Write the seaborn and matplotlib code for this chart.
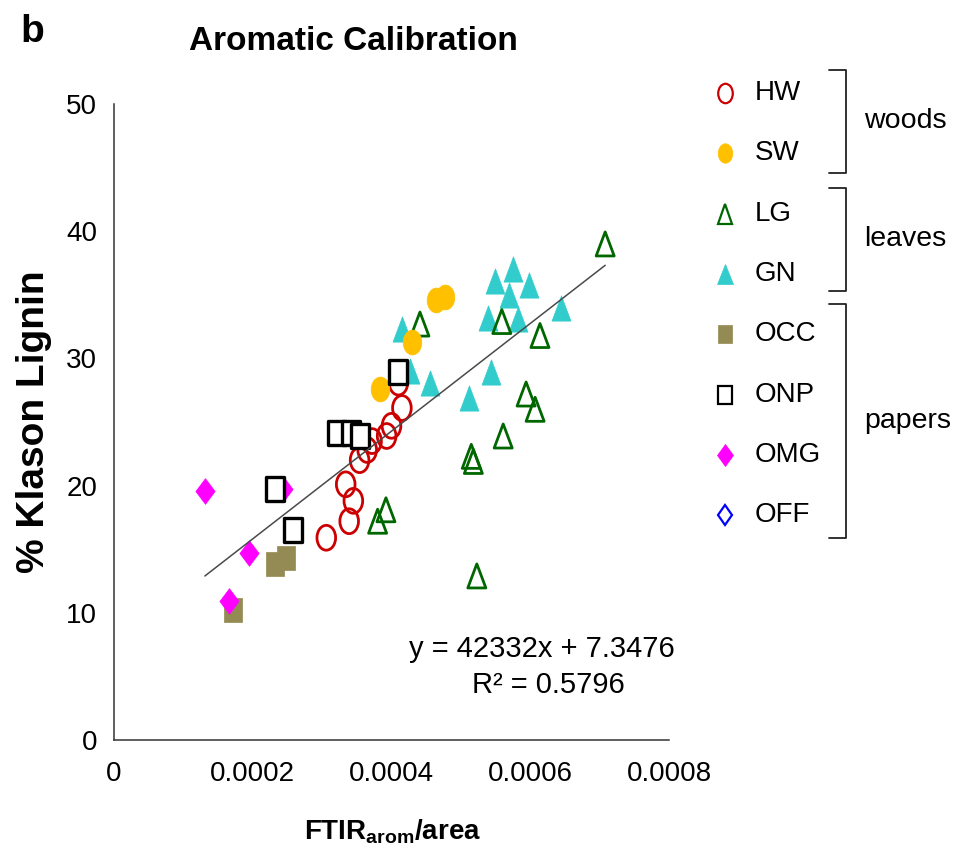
import numpy as np
import pandas as pd
import matplotlib
matplotlib.use("Agg")
import matplotlib.pyplot as plt
import seaborn as sns
from matplotlib.markers import MarkerStyle
from matplotlib.transforms import Affine2D
from matplotlib.lines import Line2D

# ---------------- data ----------------
hw_x = [3.06e-4, 3.39e-4, 3.45e-4, 3.34e-4, 3.54e-4, 3.65e-4, 3.72e-4, 3.93e-4, 4.00e-4, 4.15e-4, 4.10e-4]
hw_y = [15.9, 17.2, 18.8, 20.1, 22.0, 22.8, 23.5, 23.9, 24.7, 26.1, 28.1]

sw_x = [3.84e-4, 4.29e-4, 4.64e-4, 4.77e-4]
sw_y = [27.6, 31.3, 34.6, 34.8]

lg_x = [7.08e-4, 4.41e-4, 5.59e-4, 6.14e-4, 5.94e-4, 6.07e-4, 5.61e-4, 5.15e-4, 5.18e-4, 5.23e-4, 3.92e-4, 3.80e-4]
lg_y = [39.0, 32.7, 32.9, 31.8, 27.2, 26.0, 23.9, 22.3, 21.9, 12.9, 18.1, 17.2]

gn_x = [4.15e-4, 4.27e-4, 4.55e-4, 5.11e-4, 5.43e-4, 5.39e-4, 5.83e-4, 5.49e-4, 5.75e-4, 5.98e-4, 5.70e-4, 6.45e-4]
gn_y = [32.3, 29.0, 28.1, 26.9, 28.9, 33.2, 33.1, 36.1, 37.0, 35.8, 35.0, 34.0]

occ_x = [2.32e-4, 2.48e-4, 1.71e-4]
occ_y = [13.8, 14.3, 10.2]

onp_x = [3.21e-4, 3.42e-4, 3.54e-4, 4.10e-4, 2.32e-4, 2.58e-4]
onp_y = [24.1, 24.1, 23.9, 28.9, 19.7, 16.5]

omg_x = [1.31e-4, 1.95e-4, 1.66e-4, 2.44e-4]
omg_y = [19.6, 14.7, 10.9, 19.7]

off_x = []
off_y = []

fit_slope = 42332
fit_intercept = 7.3476
r_squared = 0.5796

categories = ["HW", "SW", "LG", "GN", "OCC", "ONP", "OMG", "OFF"]
xtick_values = [0, 0.0002, 0.0004, 0.0006, 0.0008]
xtick_labels = ["0", "0.0002", "0.0004", "0.0006", "0.0008"]
ytick_values = [0, 10, 20, 30, 40, 50]

# ---------------- style ----------------
sns.set_theme(style="white")
FONT = ["Liberation Sans", "DejaVu Sans"]
plt.rcParams["font.family"] = FONT
plt.rcParams["text.color"] = "black"
plt.rcParams["mathtext.fontset"] = "custom"
plt.rcParams["mathtext.bf"] = "Liberation Sans:bold"
plt.rcParams["mathtext.rm"] = "Liberation Sans"

SQ = Affine2D().scale(0.75, 1.0)
def mk(m):
    return MarkerStyle(m, transform=SQ)

style = {
    "HW":  dict(marker="o", fc="none", ec="#CC0000", s=320, lw=2.0),
    "SW":  dict(marker="o", fc="#FFC000", ec="#FFC000", s=320, lw=0.5),
    "LG":  dict(marker="^", fc="none", ec="#006600", s=300, lw=2.0),
    "GN":  dict(marker="^", fc="#33CCCC", ec="#33CCCC", s=330, lw=0.5),
    "OCC": dict(marker="s", fc="#948A54", ec="#948A54", s=290, lw=0.5),
    "ONP": dict(marker="s", fc="white", ec="black", s=280, lw=2.4),
    "OMG": dict(marker="D", fc="#FF00FF", ec="#FF00FF", s=170, lw=0.5),
    "OFF": dict(marker="D", fc="none", ec="#0000FF", s=170, lw=1.5),
}
legend_ms = {"HW": 14, "SW": 14, "LG": 14, "GN": 15, "OCC": 13, "ONP": 12.5, "OMG": 11, "OFF": 10}

data = {"HW": (hw_x, hw_y), "SW": (sw_x, sw_y), "LG": (lg_x, lg_y), "GN": (gn_x, gn_y),
        "OCC": (occ_x, occ_y), "ONP": (onp_x, onp_y), "OMG": (omg_x, omg_y), "OFF": (off_x, off_y)}

fig = plt.figure(figsize=(9.57, 8.59), dpi=100)
ax = fig.add_axes([114/957, 1-740/859, (669-114)/957, (740-104)/859])

draw_order = ["GN", "LG", "HW", "SW", "OCC", "OMG", "ONP", "OFF"]
for z, cat in enumerate(draw_order):
    xs, ys = data[cat]
    if len(xs) == 0:
        continue
    df = pd.DataFrame({"x": xs, "y": ys})
    st = style[cat]
    sns.scatterplot(data=df, x="x", y="y", ax=ax, marker=mk(st["marker"]), s=st["s"],
                    facecolor=st["fc"], edgecolor=st["ec"], linewidth=st["lw"], zorder=3 + z)

# regression line across data range
all_x = hw_x + sw_x + lg_x + gn_x + occ_x + onp_x + omg_x
lx = np.array([min(all_x), max(all_x)])
sns.lineplot(x=lx, y=fit_slope * lx + fit_intercept, ax=ax, color="#4a4a4a", lw=1.1, zorder=20)

ax.set_xlim(0, 0.0008)
ax.set_ylim(0, 50)
ax.set_xticks(xtick_values)
ax.set_xticklabels(xtick_labels)
ax.set_yticks(ytick_values)
ax.set_xlabel("")
ax.set_ylabel("")
for sp in ["top", "right"]:
    ax.spines[sp].set_visible(False)
for sp in ["left", "bottom"]:
    ax.spines[sp].set_color("#333333")
    ax.spines[sp].set_linewidth(1.1)
ax.tick_params(axis="both", which="major", direction="out", length=7, width=1.1,
               color="#777777", labelsize=20, labelcolor="black")
ax.tick_params(axis="x", pad=8)
ax.tick_params(axis="y", pad=5)

# texts
fig.text(32/957, 1-32/859, "b", fontsize=28, fontweight="bold", ha="center", va="center")
fig.text(353/957, 1-42/859, "Aromatic Calibration", fontsize=24, fontweight="bold", ha="center", va="center")
fig.text(34/957, 1-422/859, "% Klason Lignin", fontsize=28, fontweight="bold", rotation=90,
         ha="center", va="center")
fig.text(393/957, 1-832/859, r"$\mathbf{FTIR_{arom}/area}$", fontsize=20, ha="center", va="center")
fig.text(542/957, 1-649/859, f"y = {fit_slope}x + {fit_intercept}", fontsize=21, ha="center", va="center")
fig.text(548/957, 1-685/859, f"R² = {r_squared}", fontsize=21, ha="center", va="center")

# custom legend
row_y0, row_dy = 93, 60.3
for i, cat in enumerate(categories):
    py = row_y0 + i * row_dy
    st = style[cat]
    open_m = st["fc"] in ("none", "white")
    fig.add_artist(Line2D([725/957], [1-py/859], transform=fig.transFigure, marker=mk(st["marker"]),
                          markersize=legend_ms[cat], markerfacecolor=st["fc"], markeredgecolor=st["ec"],
                          markeredgewidth=1.6 if open_m else 0.5, linestyle="none"))
    fig.text(755/957, 1-py/859, cat, fontsize=20, ha="left", va="center")

brackets = [("woods", 70, 173), ("leaves", 188, 291), ("papers", 304, 538)]
for name, top, bot in brackets:
    xs_ = [829/957, 846/957, 846/957, 829/957]
    ys_ = [1-top/859, 1-top/859, 1-bot/859, 1-bot/859]
    fig.add_artist(Line2D(xs_, ys_, transform=fig.transFigure, color="#222222", lw=1.3))
    fig.text(864/957, 1-((top+bot)/2)/859, name, fontsize=20.5, ha="left", va="center")

fig.savefig("out.png", dpi=100)
